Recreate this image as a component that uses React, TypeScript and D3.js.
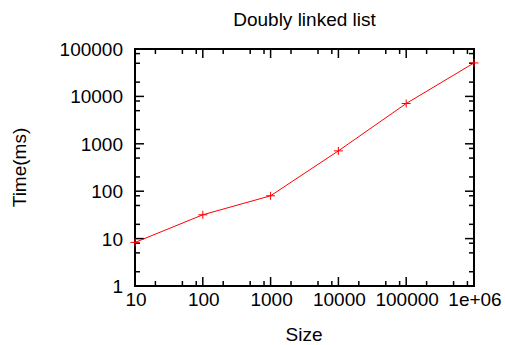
import React from "react";
import * as d3 from "d3";

const sizes = [10, 100, 1000, 10000, 100000, 1000000];
const times = [8.3, 31.8, 80, 710, 7080, 50800];
const xTickValues = [10, 100, 1000, 10000, 100000, 1000000];
const xTickLabels = ["10", "100", "1000", "10000", "100000", "1e+06"];
const yTickValues = [1, 10, 100, 1000, 10000, 100000];
const yTickLabels = ["1", "10", "100", "1000", "10000", "100000"];
const minorMultipliers = [2, 5, 8];

const W = 505;
const H = 345;
const L = 135, R = 474, T = 49, B = 286;
const FONT = "'Liberation Sans', Arial, sans-serif";

export default function App() {
  const x = d3.scaleLog().domain([10, 1000000]).range([L, R]);
  const y = d3.scaleLog().domain([1, 100000]).range([B, T]);
  const xMinor: number[] = [];
  xTickValues.slice(0, -1).forEach((v) => minorMultipliers.forEach((m) => xMinor.push(v * m)));
  const yMinor: number[] = [];
  yTickValues.slice(0, -1).forEach((v) => minorMultipliers.forEach((m) => yMinor.push(v * m)));
  const line = d3
    .line<number>()
    .x((_, i) => x(sizes[i]))
    .y((d) => y(d));
  const major = 9, minor = 5;
  return (
    <svg width={W} height={H} style={{ position: "absolute", left: 0, top: 0 }} fontFamily={FONT}>
      <rect x={0} y={0} width={W} height={H} fill="#fff" />
      <g stroke="#000" strokeWidth={1.5}>
        {xTickValues.map((v) => (
          <g key={"xm" + v}>
            <line x1={x(v)} x2={x(v)} y1={B} y2={B - major} />
            <line x1={x(v)} x2={x(v)} y1={T} y2={T + major} />
          </g>
        ))}
        {xMinor.map((v) => (
          <g key={"xn" + v}>
            <line x1={x(v)} x2={x(v)} y1={B} y2={B - minor} />
            <line x1={x(v)} x2={x(v)} y1={T} y2={T + minor} />
          </g>
        ))}
        {yTickValues.map((v) => (
          <g key={"ym" + v}>
            <line x1={L} x2={L + major} y1={y(v)} y2={y(v)} />
            <line x1={R} x2={R - major} y1={y(v)} y2={y(v)} />
          </g>
        ))}
        {yMinor.map((v) => (
          <g key={"yn" + v}>
            <line x1={L} x2={L + minor} y1={y(v)} y2={y(v)} />
            <line x1={R} x2={R - minor} y1={y(v)} y2={y(v)} />
          </g>
        ))}
      </g>
      <rect x={L} y={T} width={R - L} height={B - T} fill="none" stroke="#000" strokeWidth={2} />
      <path d={line(times) || ""} fill="none" stroke="#ff0000" strokeWidth={1} />
      <g stroke="#ff0000" strokeWidth={1}>
        {times.map((t, i) => (
          <g key={"p" + i}>
            <line x1={x(sizes[i]) - 4.5} x2={x(sizes[i]) + 4.5} y1={y(t)} y2={y(t)} />
            <line x1={x(sizes[i])} x2={x(sizes[i])} y1={y(t) - 4} y2={y(t) + 4} />
          </g>
        ))}
      </g>
      <g fontSize={19} fill="#000">
        {xTickValues.map((v, i) => (
          <text key={"xl" + v} x={x(v) + 1} y={306} textAnchor="middle">
            {xTickLabels[i]}
          </text>
        ))}
        {yTickValues.map((v, i) => (
          <text key={"yl" + v} x={123} y={y(v) + 7} textAnchor="end">
            {yTickLabels[i]}
          </text>
        ))}
        <text x={304.5} y={26} textAnchor="middle">Doubly linked list</text>
        <text x={304} y={341} textAnchor="middle">Size</text>
        <text transform={`translate(25.5,167.5) rotate(-90)`} textAnchor="middle">Time(ms)</text>
      </g>
    </svg>
  );
}
